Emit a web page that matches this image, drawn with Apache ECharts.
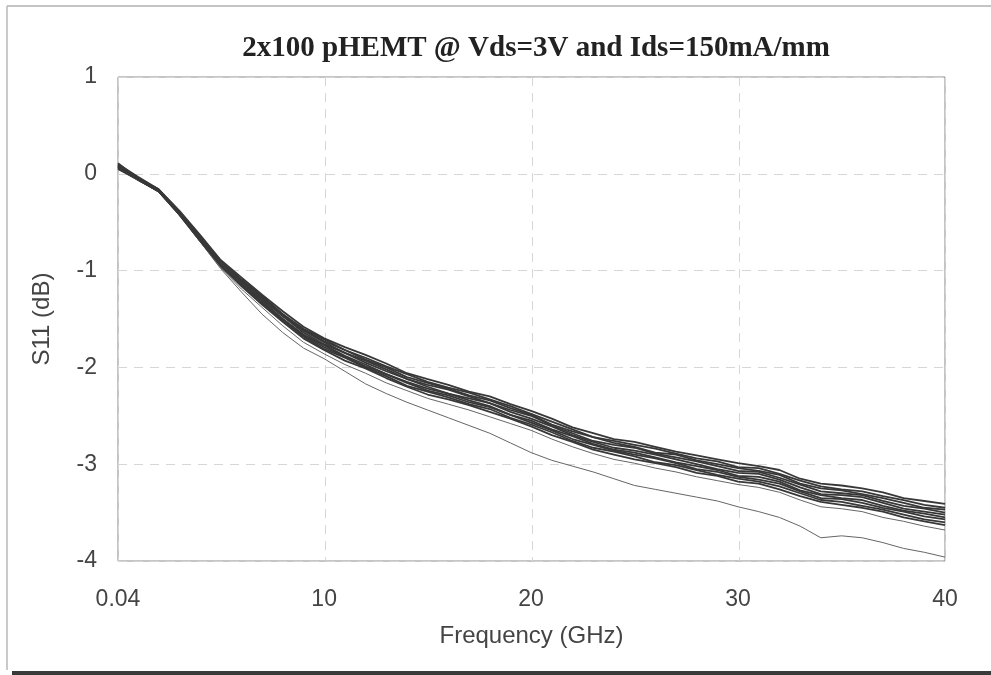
<!DOCTYPE html>
<html>
<head>
<meta charset="utf-8">
<script src="https://cdn.jsdelivr.net/npm/echarts@6/dist/echarts.min.js"></script>
<style>
html,body{margin:0;padding:0;background:#fff;}
#chart{width:991px;height:675px;}
</style>
</head>
<body>
<div id="chart"></div>
<script>
var freq = [0.04,1,2,3,4,5,6,7,8,9,10,11,12,13,14,15,16,17,18,19,20,21,22,23,24,25,26,27,28,29,30,31,32,33,34,35,36,37,38,39,40];
var xTicks = [0.04,10,20,30,40];

var c1 = [0.10,-0.03,-0.16,-0.38,-0.63,-0.89,-1.07,-1.25,-1.42,-1.58,-1.70,-1.79,-1.87,-1.96,-2.06,-2.12,-2.18,-2.25,-2.30,-2.38,-2.45,-2.53,-2.62,-2.68,-2.74,-2.77,-2.82,-2.87,-2.91,-2.95,-2.99,-3.02,-3.06,-3.15,-3.20,-3.22,-3.25,-3.29,-3.35,-3.38,-3.41];
var c2 = [0.08,-0.04,-0.16,-0.39,-0.64,-0.90,-1.09,-1.26,-1.45,-1.60,-1.71,-1.82,-1.90,-1.99,-2.07,-2.15,-2.21,-2.26,-2.33,-2.40,-2.48,-2.56,-2.64,-2.72,-2.76,-2.80,-2.84,-2.89,-2.94,-2.97,-3.03,-3.04,-3.10,-3.17,-3.23,-3.26,-3.28,-3.33,-3.37,-3.42,-3.45];
var c3 = [0.11,-0.05,-0.16,-0.39,-0.65,-0.90,-1.10,-1.28,-1.45,-1.61,-1.73,-1.82,-1.92,-2.00,-2.10,-2.16,-2.22,-2.29,-2.34,-2.42,-2.49,-2.59,-2.66,-2.72,-2.78,-2.82,-2.88,-2.90,-2.96,-3.00,-3.04,-3.07,-3.11,-3.20,-3.25,-3.27,-3.31,-3.35,-3.40,-3.45,-3.47];
var c4 = [0.07,-0.04,-0.17,-0.40,-0.65,-0.91,-1.11,-1.28,-1.47,-1.62,-1.74,-1.85,-1.93,-2.02,-2.12,-2.18,-2.23,-2.30,-2.37,-2.44,-2.50,-2.60,-2.68,-2.76,-2.80,-2.83,-2.89,-2.93,-2.97,-3.02,-3.07,-3.08,-3.14,-3.21,-3.28,-3.30,-3.32,-3.38,-3.43,-3.46,-3.50];
var c5 = [0.09,-0.05,-0.18,-0.40,-0.66,-0.93,-1.12,-1.30,-1.47,-1.64,-1.76,-1.85,-1.95,-2.04,-2.12,-2.20,-2.27,-2.32,-2.37,-2.46,-2.53,-2.61,-2.70,-2.77,-2.83,-2.86,-2.90,-2.95,-3.00,-3.05,-3.09,-3.10,-3.16,-3.24,-3.31,-3.32,-3.34,-3.40,-3.46,-3.49,-3.52];
var c6 = [0.05,-0.06,-0.18,-0.41,-0.67,-0.93,-1.14,-1.31,-1.50,-1.66,-1.77,-1.88,-1.97,-2.07,-2.15,-2.22,-2.27,-2.34,-2.40,-2.49,-2.55,-2.64,-2.71,-2.79,-2.85,-2.88,-2.93,-2.98,-3.02,-3.06,-3.12,-3.13,-3.18,-3.27,-3.32,-3.35,-3.37,-3.43,-3.48,-3.51,-3.55];
var c7 = [0.08,-0.06,-0.17,-0.41,-0.68,-0.94,-1.14,-1.33,-1.50,-1.67,-1.79,-1.89,-1.99,-2.07,-2.16,-2.24,-2.29,-2.36,-2.41,-2.49,-2.57,-2.65,-2.74,-2.80,-2.86,-2.90,-2.94,-2.99,-3.05,-3.08,-3.13,-3.16,-3.20,-3.28,-3.35,-3.36,-3.40,-3.45,-3.49,-3.54,-3.57];
var c8 = [0.06,-0.06,-0.18,-0.42,-0.68,-0.95,-1.15,-1.34,-1.52,-1.68,-1.81,-1.90,-2.00,-2.09,-2.19,-2.25,-2.31,-2.38,-2.43,-2.52,-2.59,-2.67,-2.76,-2.83,-2.87,-2.92,-2.98,-3.01,-3.06,-3.11,-3.15,-3.18,-3.23,-3.30,-3.37,-3.39,-3.43,-3.47,-3.52,-3.57,-3.60];
var c9 = [0.07,-0.06,-0.18,-0.42,-0.69,-0.95,-1.16,-1.35,-1.53,-1.70,-1.82,-1.93,-2.01,-2.11,-2.20,-2.28,-2.33,-2.39,-2.46,-2.53,-2.61,-2.70,-2.77,-2.85,-2.90,-2.95,-2.99,-3.03,-3.09,-3.12,-3.18,-3.20,-3.26,-3.33,-3.39,-3.42,-3.45,-3.49,-3.55,-3.59,-3.63];
var c10 = [0.05,-0.06,-0.19,-0.43,-0.70,-0.97,-1.19,-1.38,-1.57,-1.74,-1.86,-1.97,-2.06,-2.16,-2.24,-2.32,-2.38,-2.44,-2.51,-2.58,-2.65,-2.74,-2.82,-2.89,-2.95,-2.99,-3.04,-3.08,-3.13,-3.17,-3.21,-3.24,-3.29,-3.37,-3.44,-3.46,-3.49,-3.55,-3.59,-3.64,-3.68];
var c11 = [0.05,-0.05,-0.18,-0.42,-0.70,-0.98,-1.22,-1.45,-1.64,-1.80,-1.91,-2.04,-2.17,-2.27,-2.36,-2.44,-2.52,-2.60,-2.68,-2.78,-2.88,-2.96,-3.02,-3.08,-3.15,-3.22,-3.26,-3.30,-3.34,-3.38,-3.44,-3.49,-3.55,-3.64,-3.76,-3.74,-3.76,-3.81,-3.87,-3.91,-3.96];

var curves = [c1,c2,c3,c4,c5,c6,c7,c8,c9,c10,c11];

function pairs(ys){ return freq.map(function(f,i){ return [f, ys[i]]; }); }

var series = curves.map(function(ys, k){
  var outer = (k === 9 || k === 10);
  return {
    type: 'line',
    name: 'S11 #' + (k+1),
    data: pairs(ys),
    showSymbol: false,
    symbol: 'none',
    smooth: false,
    lineStyle: { color: outer ? '#666666' : '#383838', width: outer ? 1 : 1.8 },
    silent: true,
    z: outer ? 3 : 4
  };
});

var chart = echarts.init(document.getElementById('chart'));
chart.setOption({
  animation: false,
  backgroundColor: '#ffffff',
  title: {
    text: '2x100 pHEMT @ Vds=3V and Ids=150mA/mm',
    left: 531,
    top: 29,
    textAlign: 'center',
    textStyle: { fontFamily: 'Liberation Serif', fontWeight: 'bold', fontSize: 29, color: '#222' }
  },
  grid: { left: 118, right: 46, top: 77, bottom: 114, show: true, borderColor: '#8a8a8a', borderWidth: 1, backgroundColor: 'transparent', containLabel: false },
  xAxis: {
    type: 'value', min: 0.04, max: 40, interval: 10,
    name: 'Frequency (GHz)', nameLocation: 'middle', nameGap: 63,
    nameTextStyle: { fontFamily: 'Liberation Sans', fontSize: 24, color: '#444' },
    axisLine: { show: false },
    axisTick: { show: false },
    axisLabel: { customValues: xTicks, margin: 27, fontFamily: 'Liberation Sans', fontSize: 23, color: '#444',
      formatter: function(v){ return String(v); } },
    splitLine: { show: true, lineStyle: { color: '#d6d6d6', type: [9, 7], width: 1 } }
  },
  yAxis: {
    type: 'value', min: -4, max: 1, interval: 1,
    name: 'S11 (dB)', nameLocation: 'middle', nameGap: 64, nameRotate: 90,
    nameTextStyle: { fontFamily: 'Liberation Sans', fontSize: 24, color: '#444' },
    axisLine: { show: false },
    axisTick: { show: false },
    axisLabel: { margin: 21, fontFamily: 'Liberation Sans', fontSize: 23, color: '#444' },
    splitLine: { show: true, lineStyle: { color: '#d6d6d6', type: [9, 7], width: 1 } }
  },
  graphic: [
    { type: 'line', shape: { x1: 7, y1: 6, x2: 991, y2: 6 }, style: { stroke: '#b0b0b0', lineWidth: 1.5 }, silent: true },
    { type: 'line', shape: { x1: 7, y1: 6, x2: 7, y2: 670 }, style: { stroke: '#b8b8b8', lineWidth: 1.5 }, silent: true },
    { type: 'rect', shape: { x: 12, y: 671, width: 979, height: 4 }, style: { fill: '#3a3a3a' }, silent: true }
  ],
  series: series
});
</script>
</body>
</html>
